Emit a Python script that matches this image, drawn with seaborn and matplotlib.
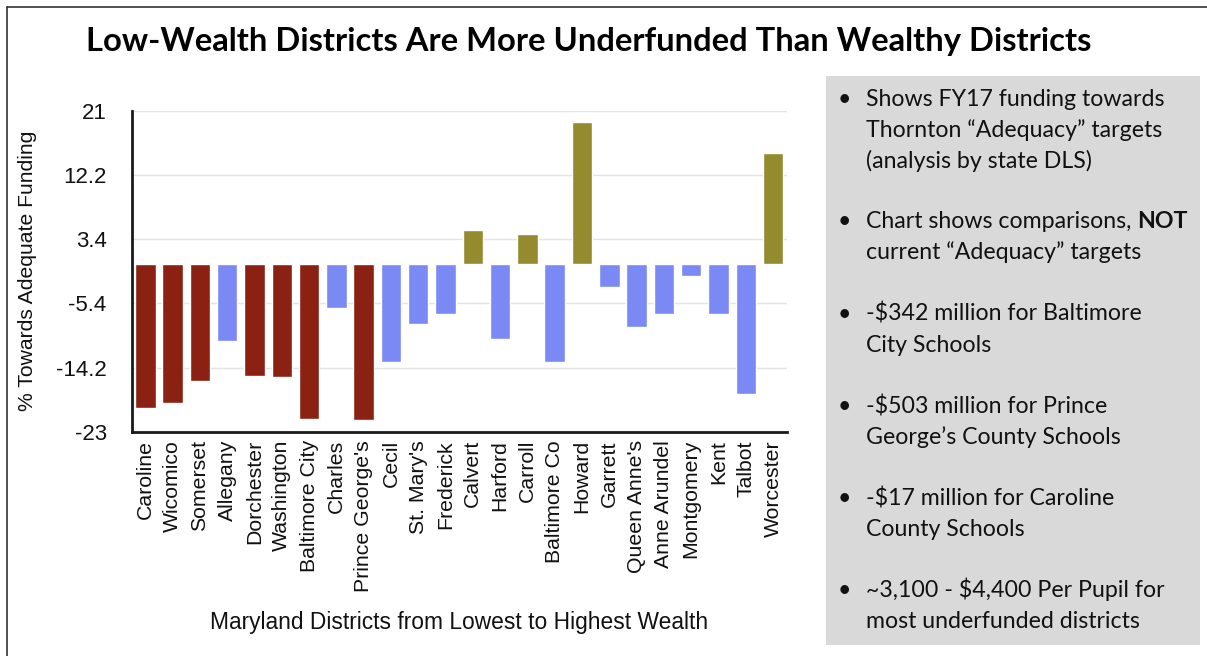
import matplotlib
matplotlib.use("Agg")
import matplotlib.pyplot as plt
import seaborn as sns
import pandas as pd
from matplotlib.patches import Rectangle
from matplotlib.lines import Line2D

# ---------------- data ----------------
districts = ["Caroline", "Wicomico", "Somerset", "Allegany", "Dorchester", "Washington",
             "Baltimore City", "Charles", "Prince George's", "Cecil", "St. Mary's", "Frederick",
             "Calvert", "Harford", "Carroll", "Baltimore Co", "Howard", "Garrett",
             "Queen Anne's", "Anne Arundel", "Montgomery", "Kent", "Talbot", "Worcester"]
pct_adequate = [-19.7, -19.0, -16.0, -10.6, -15.3, -15.5, -21.3, -6.0, -21.4, -13.5, -8.3, -6.9,
                4.6, -10.3, 4.1, -13.5, 19.5, -3.1, -8.6, -6.9, -1.6, -6.9, -17.9, 15.2]
group = ["low", "low", "low", "other", "low", "low",
         "low", "other", "low", "other", "other", "other",
         "above", "other", "above", "other", "above", "other",
         "other", "other", "other", "other", "other", "above"]
ytick_values = [-23, -14.2, -5.4, 3.4, 12.2, 21]
ytick_labels = ["-23", "-14.2", "-5.4", "3.4", "12.2", "21"]

title = "Low-Wealth Districts Are More Underfunded Than Wealthy Districts"
xlabel = "Maryland Districts from Lowest to Highest Wealth"
ylabel = "% Towards Adequate Funding"
bullets = [
    [("Shows FY17 funding towards",), ("Thornton \u201cAdequacy\u201d targets",), ("(analysis by state DLS)",)],
    [("Chart shows comparisons, ", "NOT"), ("current \u201cAdequacy\u201d targets",)],
    [("-$342 million for Baltimore",), ("City Schools",)],
    [("-$503 million for Prince",), ("George\u2019s County Schools",)],
    [("-$17 million for Caroline",), ("County Schools",)],
    [("~3,100 - $4,400 Per Pupil for",), ("most underfunded districts",)],
]

palette = {"low": "#8A2112", "other": "#7B89F5", "above": "#938B2E"}

df = pd.DataFrame({"district": districts, "pct": pct_adequate, "group": group})

# ---------------- figure ----------------
sns.set_style("white")
plt.rcParams["font.family"] = ["Liberation Sans", "DejaVu Sans"]
plt.rcParams["axes.unicode_minus"] = False

W, H = 1207, 656
fig = plt.figure(figsize=(W / 100, H / 100), dpi=100)
fig.patch.set_facecolor("white")

def fx(px):
    return px / W

def fy(py):
    return 1 - py / H

ax = fig.add_axes([fx(131.7), fy(431.7), fx(786.7) - fx(131.7), fy(110.7) - fy(431.7)])

sns.barplot(data=df, x="district", y="pct", hue="group", palette=palette,
            dodge=False, width=0.75, ax=ax, legend=False, saturation=1,
            order=districts)

ax.set_ylim(-23, 21)
ax.set_xlim(-0.5, len(districts) - 0.5)
ax.set_yticks(ytick_values)
ax.set_yticklabels(ytick_labels)
ax.tick_params(axis="y", length=0, pad=18, labelsize=16, labelcolor="#111111")
ax.tick_params(axis="x", length=0, pad=6, labelsize=15.3, labelcolor="#111111")
for lab in ax.get_xticklabels():
    lab.set_rotation(90)
    lab.set_va("top")
    lab.set_ha("center")

ax.yaxis.grid(True, color="#E4E4E4", lw=1)
ax.set_axisbelow(True)
for s in ["top", "right"]:
    ax.spines[s].set_visible(False)
for s in ["left", "bottom"]:
    ax.spines[s].set_color("#1a1a1a")
    ax.spines[s].set_linewidth(2)

ax.set_xlabel(xlabel, fontsize=16.4, color="#111111")
ax.xaxis.set_label_coords(0.5, -0.56)
ax.set_ylabel(ylabel, fontsize=15.2, color="#111111")
ax.yaxis.set_label_coords(-0.1446, 0.5)

# slide border
fig.add_artist(Line2D([fx(7), 1], [fy(7), fy(7)], color="#333333", lw=1.2))
fig.add_artist(Line2D([fx(7), fx(7)], [fy(7), 0], color="#333333", lw=1.2))

# title
fig.text(fx(589), fy(42), title, ha="center", va="center", fontsize=23.6,
         fontweight="bold", family=["Lato", "DejaVu Sans"], color="black")

# gray info box
fig.add_artist(Rectangle((fx(826), fy(645)), fx(1200) - fx(826), fy(76) - fy(645),
                         facecolor="#D9D9D9", edgecolor="none"))

box_font = ["Lato", "DejaVu Sans"]
box_size = 16.7
baselines = [[106, 137, 168], [228, 259], [321, 352], [413, 444], [505, 536], [597, 628]]
fig.canvas.draw()
renderer = fig.canvas.get_renderer()
for item, bls in zip(bullets, baselines):
    fig.text(fx(838), fy(bls[0]), "\u2022", ha="left", va="baseline",
             fontsize=box_size, family=box_font, color="#111111")
    for parts, bl in zip(item, bls):
        t = fig.text(fx(866), fy(bl), parts[0], ha="left", va="baseline",
                     fontsize=box_size, family=box_font, color="#111111")
        if len(parts) > 1:
            ext = t.get_window_extent(renderer=renderer)
            fig.text(ext.x1 / W, fy(bl), parts[1], ha="left", va="baseline",
                     fontsize=box_size, family=box_font, fontweight="bold",
                     color="#111111")

fig.savefig("out.png", dpi=100, facecolor="white")
